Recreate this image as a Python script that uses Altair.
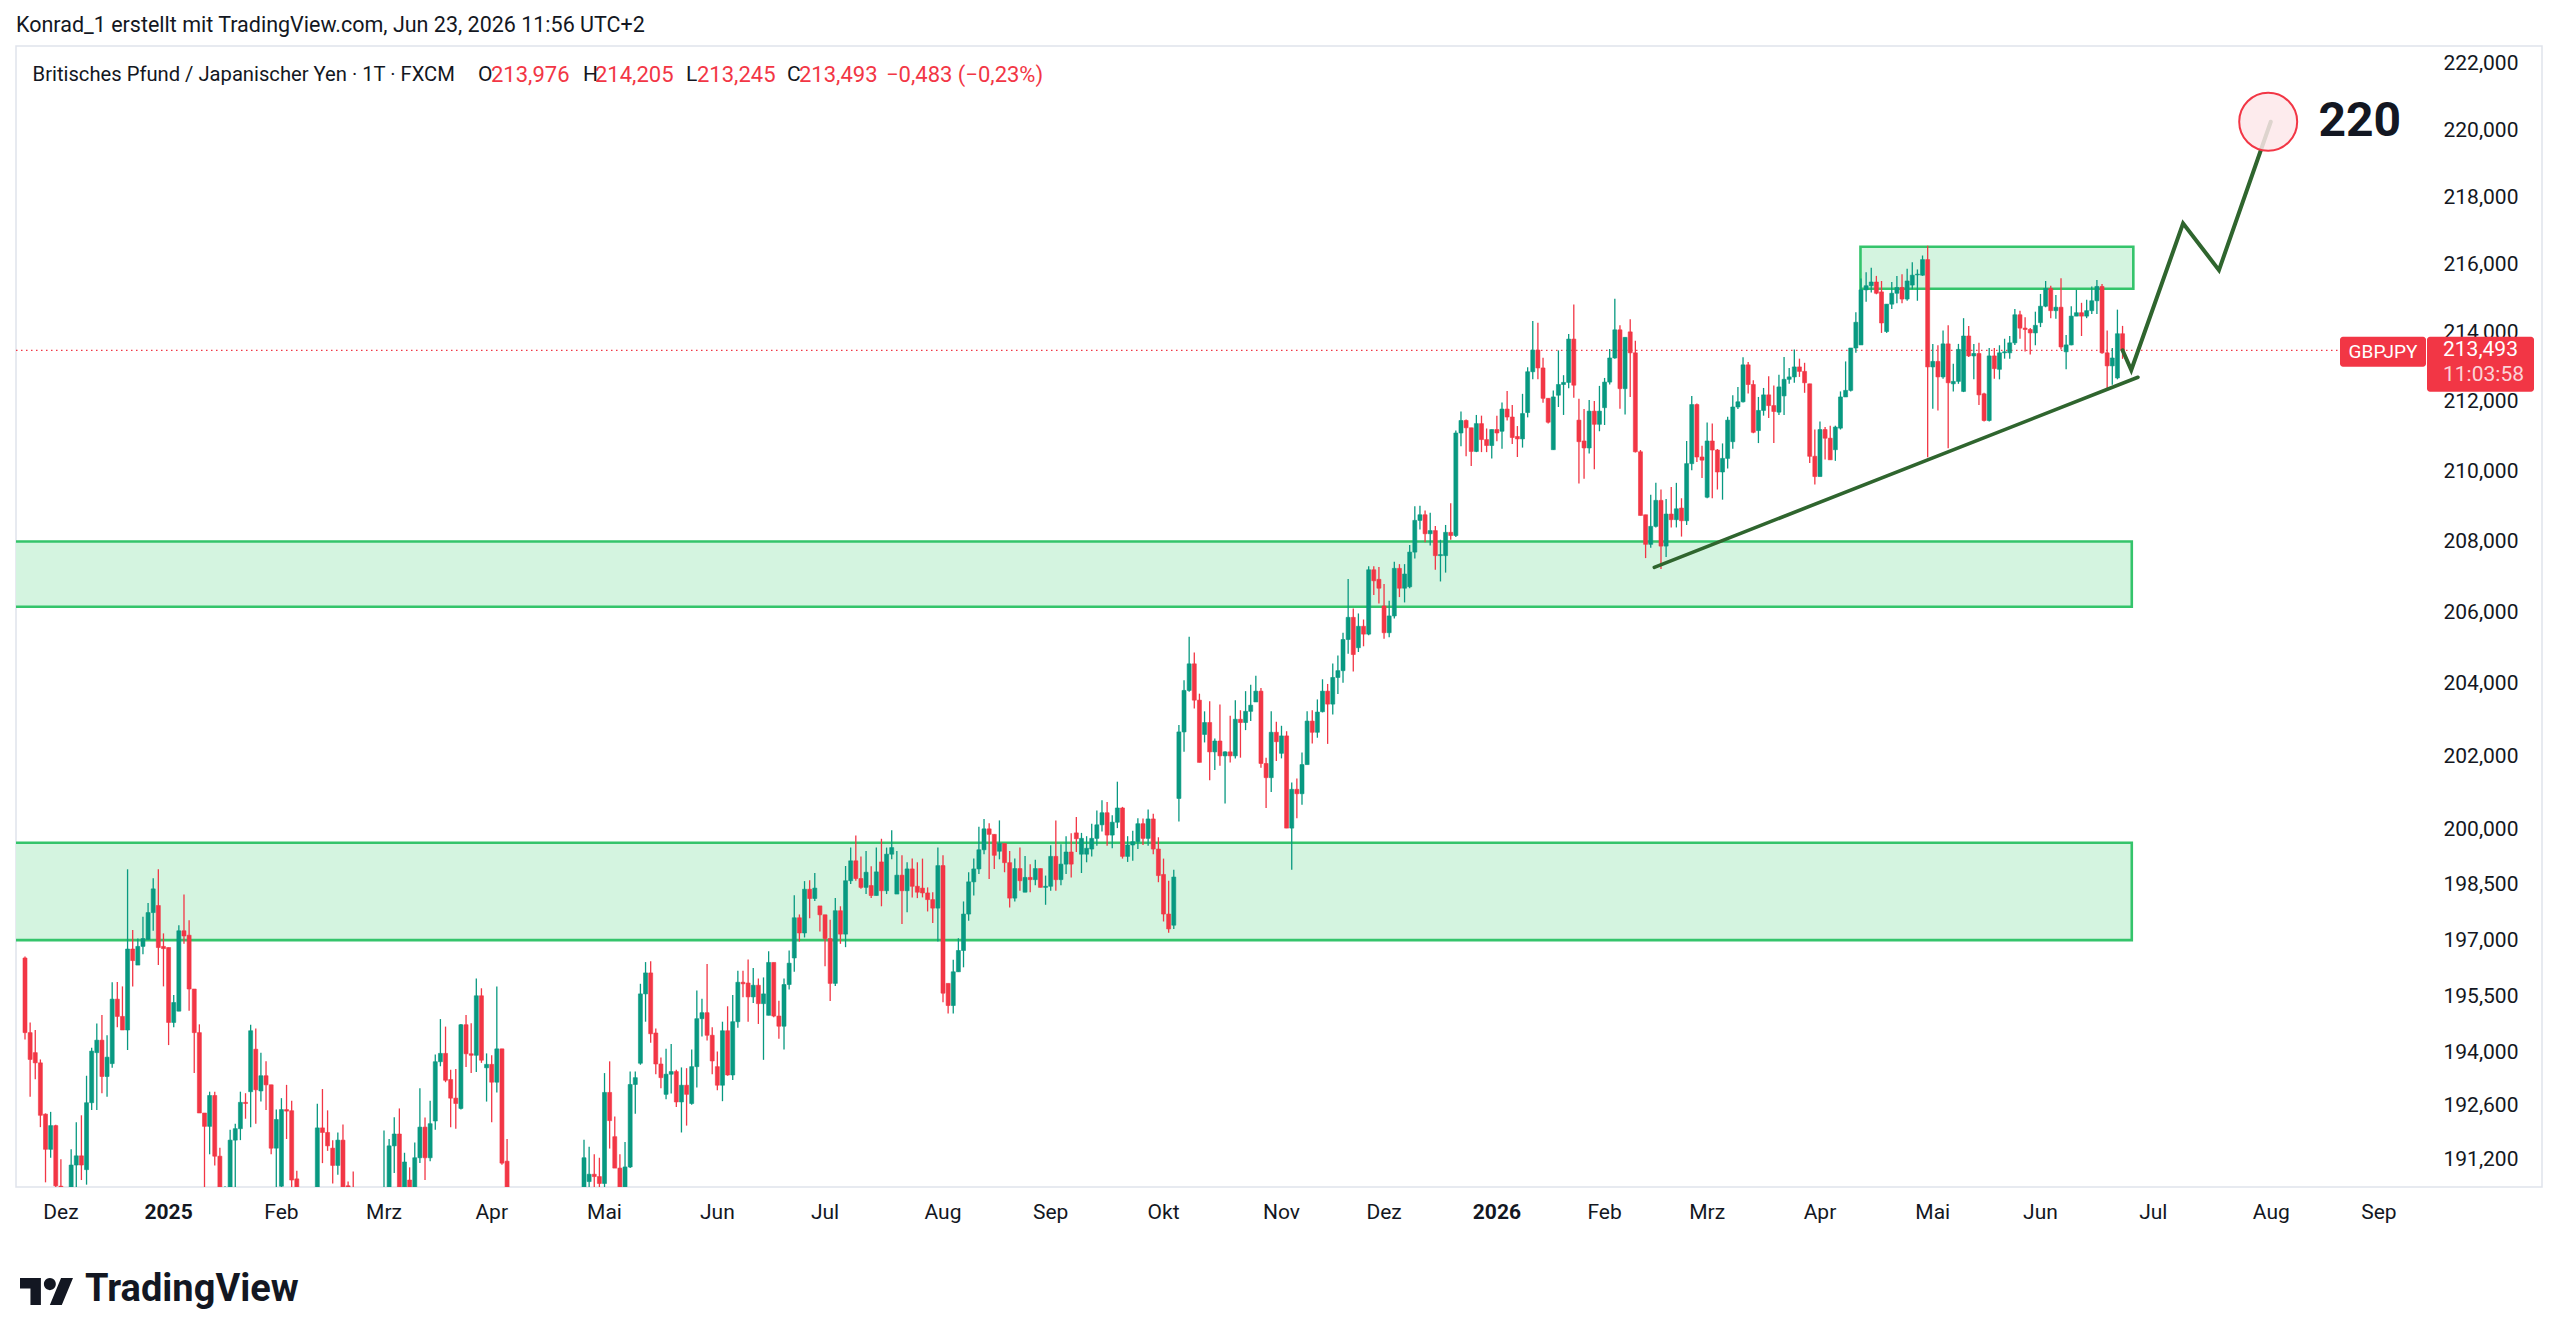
import altair as alt
import pandas as pd

# ---------------------------------------------------------------------------
# GBP/JPY daily candles (open, high, low, close), one list per month
# ---------------------------------------------------------------------------
nov_2024 = [
    (196.52, 196.56, 194.35, 194.53), (194.53, 194.80, 192.84, 193.82), (194.00, 194.60, 193.30, 193.73),
    (193.73, 193.82, 192.04, 192.35), (192.38, 192.40, 190.60, 191.46), (191.46, 192.44, 191.24, 192.08),
    (192.08, 192.10, 190.40, 190.51),
]
dec_2024 = [
    (190.50, 191.20, 189.50, 189.80), (189.80, 190.30, 189.00, 189.60), (189.90, 191.46, 189.70, 191.05),
    (191.05, 192.17, 190.30, 191.29), (191.29, 192.35, 190.66, 191.05), (190.93, 193.39, 190.54, 192.68),
    (192.68, 194.13, 192.49, 194.04), (194.00, 194.77, 192.49, 194.33), (194.33, 195.00, 192.93, 193.37),
    (193.37, 194.46, 192.84, 193.88), (193.71, 195.87, 193.60, 195.42), (195.42, 195.88, 194.67, 194.96),
    (194.96, 195.76, 194.60, 194.60), (194.60, 198.91, 194.07, 196.76), (196.76, 197.27, 195.76, 196.45),
    (196.33, 197.04, 196.33, 196.83), (196.83, 197.63, 196.62, 197.04), (197.02, 198.00, 197.00, 197.74),
    (197.74, 198.67, 197.25, 198.38), (197.93, 198.91, 196.33, 196.80), (196.83, 197.18, 195.76, 196.77),
]
jan_2025 = [
    (196.80, 196.80, 194.20, 194.80), (194.80, 195.53, 194.67, 195.33), (195.10, 197.40, 195.10, 197.25),
    (197.25, 198.23, 196.90, 197.11), (197.13, 197.53, 195.11, 195.69), (195.69, 195.69, 193.46, 194.53),
    (194.53, 194.75, 192.41, 192.41), (192.41, 192.41, 190.20, 192.06), (192.06, 192.97, 191.33, 192.87),
    (192.87, 192.97, 191.04, 191.28), (191.28, 191.50, 189.90, 190.20), (190.10, 190.50, 189.40, 190.35),
    (190.30, 191.97, 189.90, 191.70), (191.70, 192.13, 190.40, 192.00), (192.00, 192.97, 191.70, 192.69),
    (192.69, 192.93, 192.26, 192.66), (192.97, 194.74, 192.04, 194.58), (194.09, 194.64, 192.13, 193.02),
    (192.99, 194.00, 192.71, 193.39), (193.39, 193.77, 192.49, 193.15), (193.15, 193.15, 191.33, 191.49),
    (191.49, 192.50, 190.40, 192.24),
]
feb_2025 = [
    (190.50, 192.80, 189.30, 192.50), (192.50, 193.15, 191.73, 192.46), (192.47, 192.73, 190.30, 190.66),
    (190.69, 190.90, 189.90, 190.35), (190.30, 190.40, 188.90, 189.30), (189.30, 189.80, 188.20, 188.70),
    (188.70, 190.00, 188.30, 189.60), (189.60, 192.65, 189.40, 192.02), (192.02, 193.04, 191.10, 191.90),
    (191.90, 192.48, 191.42, 191.55), (191.49, 191.70, 190.57, 191.04), (191.04, 191.90, 190.80, 191.70),
    (191.70, 192.11, 190.30, 190.48), (190.51, 190.62, 189.80, 190.30), (190.30, 190.88, 189.40, 189.80),
    (189.80, 190.20, 188.60, 189.00), (189.00, 189.50, 187.90, 188.30), (188.30, 189.20, 187.80, 188.90),
    (188.90, 190.00, 188.50, 189.60), (189.60, 190.30, 188.90, 189.20),
]
mar_2025 = [
    (189.70, 191.95, 189.30, 190.20), (190.20, 191.73, 190.00, 191.55), (191.55, 192.30, 190.84, 191.86),
    (191.86, 192.53, 190.20, 190.48), (190.48, 191.37, 190.30, 191.13), (190.66, 190.99, 190.10, 190.40),
    (190.40, 191.64, 190.20, 191.24), (191.24, 193.06, 191.10, 192.04), (192.04, 192.29, 190.66, 191.24),
    (191.24, 192.73, 191.15, 192.13), (192.20, 193.95, 191.97, 193.76), (193.76, 194.89, 193.64, 193.98),
    (193.98, 194.69, 193.22, 193.27), (193.29, 193.55, 192.04, 192.80), (192.80, 193.57, 192.00, 192.66),
    (192.53, 194.76, 192.50, 194.74), (194.74, 195.00, 193.62, 193.97), (193.97, 194.78, 193.46, 193.93),
    (193.93, 195.97, 193.49, 195.51), (195.51, 195.71, 193.73, 193.80), (193.60, 193.98, 192.71, 193.69),
]
apr_2025 = [
    (193.69, 193.93, 192.17, 193.22), (193.22, 195.76, 192.95, 194.10), (194.10, 194.10, 191.06, 191.10),
    (191.15, 191.73, 189.80, 190.30), (190.30, 190.40, 184.50, 186.50), (186.50, 189.00, 185.80, 188.40),
    (188.40, 189.80, 186.20, 187.20), (187.20, 189.60, 186.00, 188.80), (188.80, 189.20, 186.00, 186.90),
    (186.90, 188.10, 185.60, 187.80), (187.80, 189.50, 187.40, 188.90), (188.90, 189.90, 187.90, 188.20),
    (188.20, 189.30, 187.50, 188.70), (188.70, 190.20, 188.20, 189.80), (189.80, 190.30, 188.00, 188.60),
    (188.60, 189.80, 187.90, 189.40), (189.40, 190.30, 188.80, 189.90), (189.90, 190.40, 189.00, 190.10),
    (190.40, 191.71, 190.10, 191.24), (190.62, 191.53, 190.30, 190.81), (190.81, 191.33, 190.30, 190.75),
    (190.75, 191.24, 190.30, 190.57),
]
may_2025 = [
    (190.57, 193.46, 190.40, 192.95), (192.95, 193.77, 191.48, 192.21), (191.79, 192.32, 190.97, 190.97),
    (190.97, 191.33, 190.20, 190.48), (190.48, 191.65, 190.30, 191.00), (191.00, 193.50, 190.97, 193.16),
    (193.16, 193.50, 192.39, 193.34), (193.72, 195.83, 193.68, 195.56), (195.56, 196.41, 194.82, 196.12),
    (196.12, 196.43, 194.26, 194.50), (194.52, 194.64, 193.43, 193.70), (193.70, 193.87, 193.06, 193.34),
    (192.90, 194.10, 192.77, 193.43), (193.43, 194.23, 192.92, 193.50), (193.50, 193.55, 192.57, 192.70),
    (192.70, 193.61, 191.90, 193.14), (193.14, 193.59, 192.08, 192.90), (192.66, 194.08, 192.63, 193.63),
    (193.63, 195.65, 193.08, 194.90), (194.90, 195.43, 194.43, 195.06), (195.06, 196.36, 194.32, 194.46),
    (194.46, 194.67, 193.43, 193.78),
]
jun_2025 = [
    (193.63, 194.03, 193.01, 193.14), (193.14, 194.82, 192.72, 194.58), (194.58, 195.23, 193.39, 193.41),
    (193.41, 195.53, 193.28, 194.82), (194.82, 196.18, 194.66, 195.87), (195.87, 196.18, 195.47, 195.83),
    (195.85, 196.48, 194.82, 195.48), (195.48, 196.25, 195.32, 195.79), (195.79, 195.97, 194.76, 195.30),
    (195.30, 196.00, 193.81, 195.56), (194.99, 196.70, 194.99, 196.40), (196.40, 196.40, 194.94, 194.97),
    (194.97, 195.38, 194.37, 194.70), (194.70, 195.97, 194.08, 195.81), (195.81, 196.72, 195.68, 196.38),
    (196.52, 198.21, 196.15, 197.60), (197.60, 197.69, 196.96, 197.19), (197.19, 198.59, 197.07, 198.37),
    (198.37, 198.61, 197.59, 198.12), (198.12, 198.81, 198.05, 198.40), (197.92, 197.92, 197.23, 197.68),
]
jul_2025 = [
    (197.68, 197.68, 196.30, 197.04), (197.04, 197.55, 195.37, 195.84), (195.84, 198.13, 195.77, 197.79),
    (197.79, 197.91, 196.90, 197.16), (197.16, 199.00, 196.81, 198.60), (198.60, 199.50, 198.51, 199.14),
    (199.14, 199.83, 198.60, 198.66), (198.66, 199.26, 198.38, 198.42), (198.42, 199.41, 198.24, 198.83),
    (198.47, 198.99, 198.13, 198.20), (198.20, 199.50, 198.20, 198.84), (199.11, 199.74, 197.91, 198.33),
    (198.33, 199.50, 198.24, 199.32), (199.32, 199.97, 199.18, 199.50), (198.24, 199.41, 198.24, 198.75),
    (198.75, 199.29, 197.43, 198.33), (198.33, 199.10, 197.75, 198.92), (198.92, 199.20, 198.15, 198.45),
    (198.45, 199.10, 198.13, 198.29), (198.40, 199.20, 198.15, 198.27), (198.27, 198.42, 197.77, 198.09),
    (198.09, 198.29, 197.46, 197.86), (197.86, 199.50, 196.96, 199.01),
]
aug_2025 = [
    (199.01, 199.29, 195.34, 195.58), (195.84, 195.84, 195.04, 195.25), (195.25, 196.47, 195.04, 196.15),
    (196.15, 197.05, 196.15, 196.72), (196.72, 198.04, 196.27, 197.70), (197.70, 198.83, 197.52, 198.57),
    (198.57, 199.20, 198.20, 198.92), (198.92, 200.07, 198.78, 199.44), (199.44, 200.28, 199.32, 200.01),
    (200.01, 200.16, 198.65, 199.86), (199.86, 199.86, 198.92, 199.29), (199.40, 200.24, 199.18, 199.61),
    (199.61, 199.61, 198.83, 199.09), (199.09, 199.41, 197.88, 198.13), (198.13, 199.20, 198.04, 198.93),
    (198.93, 199.50, 198.33, 198.60), (198.29, 199.27, 198.29, 198.69), (198.69, 199.05, 198.29, 198.63),
    (198.63, 199.17, 198.48, 198.93), (198.93, 198.93, 198.42, 198.42), (198.42, 198.74, 197.95, 198.45),
]
sep_2025 = [
    (198.45, 199.56, 198.33, 199.26), (199.26, 200.24, 198.33, 198.63), (198.63, 199.59, 198.48, 199.05),
    (199.05, 199.81, 198.78, 199.38), (199.38, 199.89, 198.69, 199.05), (199.90, 200.33, 199.38, 199.74),
    (199.32, 199.90, 198.81, 199.75), (199.32, 199.81, 199.10, 199.48), (199.46, 200.15, 199.26, 199.75),
    (199.75, 200.51, 199.55, 200.12), (200.12, 200.79, 199.94, 200.45), (200.45, 200.74, 199.55, 199.84),
    (199.84, 200.38, 199.48, 200.19), (200.19, 201.30, 200.03, 200.58), (200.58, 200.61, 199.20, 199.26),
    (199.26, 199.81, 199.11, 199.57), (199.57, 199.96, 199.14, 199.66), (199.66, 200.30, 199.46, 200.15),
    (200.15, 200.29, 199.57, 199.75), (199.75, 200.54, 199.55, 200.28), (200.28, 200.42, 199.32, 199.46),
    (199.46, 199.78, 198.56, 198.74),
]
oct_2025 = [
    (198.77, 199.20, 197.50, 197.70), (197.70, 198.60, 197.20, 197.30), (197.40, 198.90, 197.30, 198.70),
    (200.84, 202.86, 200.21, 202.67), (202.67, 204.10, 202.12, 203.82), (203.82, 205.32, 203.78, 204.56),
    (204.56, 204.88, 203.32, 203.55), (203.55, 203.73, 201.83, 201.83), (202.60, 203.24, 202.38, 202.93),
    (202.93, 203.52, 201.34, 202.12), (202.12, 202.49, 201.62, 202.42), (202.42, 203.43, 201.74, 202.01),
    (202.01, 202.14, 200.70, 202.12), (202.12, 203.12, 201.83, 202.01), (202.01, 203.55, 201.94, 203.02),
    (203.02, 203.27, 201.96, 202.93), (202.93, 203.80, 202.72, 203.24), (203.24, 203.98, 202.97, 203.41),
    (203.50, 204.23, 203.50, 203.80), (203.80, 203.89, 201.68, 201.80), (201.80, 201.96, 200.58, 201.41),
    (201.41, 203.24, 201.02, 202.66), (202.66, 202.95, 201.87, 202.40),
]
nov_2025 = [
    (202.08, 202.84, 201.94, 202.56), (202.56, 202.69, 200.03, 200.03), (200.03, 201.28, 198.90, 201.09),
    (201.09, 201.39, 200.30, 200.97), (200.97, 202.10, 200.67, 201.77), (201.77, 203.24, 201.77, 202.97),
    (202.97, 203.27, 202.35, 202.66), (202.66, 203.57, 202.51, 203.22), (203.23, 204.13, 203.21, 203.80),
    (203.80, 204.00, 202.34, 203.44), (203.44, 204.57, 203.15, 204.18), (204.18, 204.79, 203.72, 204.37),
    (204.37, 205.43, 204.03, 205.24), (205.24, 206.94, 204.84, 205.86), (205.86, 206.11, 204.35, 204.82),
    (205.01, 205.97, 204.89, 205.61), (205.61, 205.80, 205.05, 205.39), (205.39, 207.30, 205.36, 207.20),
    (207.20, 207.30, 206.49, 206.89), (206.93, 207.28, 206.25, 206.68),
]
dec_2025 = [
    (206.18, 206.80, 205.26, 205.43), (205.43, 206.33, 205.30, 205.90), (205.90, 207.43, 205.83, 207.24),
    (207.24, 207.36, 206.43, 206.68), (206.68, 207.36, 206.28, 207.08), (206.72, 207.90, 206.68, 207.70),
    (207.70, 209.00, 207.52, 208.60), (208.60, 209.02, 208.34, 208.76), (208.76, 208.88, 207.98, 208.22),
    (208.22, 208.82, 207.89, 208.31), (208.31, 208.44, 207.20, 207.60), (207.60, 208.05, 206.87, 207.63),
    (207.60, 208.47, 207.12, 208.26), (208.26, 209.09, 208.05, 208.17), (208.17, 211.17, 208.13, 211.10),
    (211.10, 211.72, 210.72, 211.46), (211.46, 211.49, 210.43, 211.25), (211.25, 211.25, 210.15, 210.57),
    (210.57, 211.62, 210.55, 211.37), (211.37, 211.60, 210.55, 210.91), (210.91, 211.23, 210.55, 210.74),
    (210.74, 211.20, 210.37, 211.20),
]
jan_2026 = [
    (211.20, 211.60, 210.86, 211.10), (211.15, 211.98, 210.65, 211.79), (211.79, 212.31, 211.46, 211.56),
    (211.56, 211.91, 210.78, 210.97), (211.00, 211.30, 210.41, 210.93), (210.93, 212.23, 210.68, 211.66),
    (211.69, 213.00, 211.55, 212.87), (212.87, 214.35, 212.65, 213.50), (213.50, 214.30, 212.65, 212.98),
    (212.98, 213.28, 211.97, 212.10), (212.10, 212.10, 211.37, 211.41), (210.62, 212.33, 210.62, 212.14),
    (212.19, 213.49, 211.85, 212.50), (212.50, 212.77, 211.62, 212.56), (212.56, 213.97, 212.39, 213.82),
    (213.82, 214.83, 212.12, 212.48), (211.47, 212.09, 209.65, 210.85), (210.87, 211.79, 209.79, 210.67),
    (210.67, 212.05, 210.51, 211.73), (211.73, 212.02, 210.06, 211.35), (211.35, 212.46, 211.15, 211.73),
]
feb_2026 = [
    (211.83, 212.69, 211.33, 212.57), (212.57, 213.53, 212.50, 213.27), (213.27, 215.00, 213.25, 214.09),
    (214.09, 214.22, 211.80, 212.38), (212.38, 213.87, 211.63, 213.87), (214.03, 214.40, 212.14, 213.42),
    (213.42, 213.77, 210.54, 210.56), (210.56, 210.61, 208.74, 208.74), (208.76, 208.76, 207.53, 207.92),
    (207.92, 209.33, 207.82, 208.43), (208.43, 209.67, 208.40, 209.17), (209.17, 209.48, 207.22, 207.87),
    (207.87, 209.21, 207.56, 208.78), (208.78, 209.55, 208.40, 208.62), (208.62, 209.67, 208.40, 208.93),
    (208.95, 209.23, 208.14, 208.59), (208.59, 210.87, 208.47, 210.22), (210.22, 212.17, 210.03, 211.92),
    (211.92, 211.95, 210.27, 210.41), (210.41, 210.73, 209.81, 210.32),
]
mar_2026 = [
    (209.26, 211.40, 209.23, 210.87), (210.87, 211.37, 209.23, 210.61), (210.61, 210.64, 209.48, 209.98),
    (209.98, 210.80, 209.19, 210.37), (210.37, 211.57, 210.08, 211.47), (210.85, 212.19, 210.65, 211.85),
    (211.85, 212.43, 211.79, 212.00), (212.00, 213.29, 211.98, 213.07), (213.07, 213.15, 212.24, 212.50),
    (212.50, 212.62, 211.09, 211.12), (211.17, 212.14, 210.81, 211.75), (211.75, 212.40, 211.60, 212.20),
    (212.20, 212.74, 211.53, 211.89), (211.89, 212.47, 210.81, 211.72), (211.70, 212.78, 211.62, 212.43),
    (212.17, 213.30, 211.62, 212.65), (212.65, 212.98, 212.52, 212.72), (212.72, 213.52, 212.55, 213.01),
    (213.01, 213.25, 212.72, 212.88), (212.88, 213.13, 212.26, 212.55), (212.52, 212.52, 210.24, 210.43),
    (210.43, 211.20, 209.62, 209.85),
]
apr_2026 = [
    (209.85, 211.43, 209.85, 211.20), (211.20, 211.27, 210.34, 210.95), (210.95, 211.31, 210.33, 210.33),
    (210.62, 211.31, 210.30, 211.27), (211.24, 212.30, 211.20, 212.14), (212.14, 213.17, 212.14, 212.33),
    (212.33, 213.56, 212.30, 213.56), (213.56, 214.60, 213.42, 214.31), (213.65, 215.59, 213.65, 215.26),
    (215.26, 215.78, 214.91, 215.38), (215.38, 215.91, 215.18, 215.49), (215.49, 215.67, 215.13, 215.16),
    (215.20, 215.52, 214.00, 214.29), (214.04, 214.84, 214.00, 214.84), (214.84, 215.49, 214.70, 215.16),
    (215.16, 215.67, 214.87, 215.33), (215.33, 215.72, 214.87, 214.99), (214.99, 215.88, 214.94, 215.52),
    (215.40, 216.07, 215.28, 215.69), (215.70, 215.86, 214.94, 215.72), (215.69, 216.27, 215.67, 216.15),
    (216.15, 216.56, 210.40, 213.01),
]
may_2026 = [
    (213.01, 213.68, 211.80, 213.17), (213.17, 213.64, 211.75, 212.72), (212.72, 214.07, 212.67, 213.68),
    (213.68, 214.22, 210.66, 212.55), (212.52, 213.10, 212.30, 212.59), (212.59, 213.68, 212.52, 213.52),
    (212.30, 214.43, 212.28, 213.91), (213.91, 214.20, 213.30, 213.33), (213.33, 213.68, 212.65, 213.40),
    (213.40, 213.71, 211.91, 212.20), (212.23, 212.26, 211.43, 211.46), (211.46, 213.56, 211.43, 213.33),
    (213.33, 213.56, 212.67, 212.96), (212.94, 213.64, 212.65, 213.42), (213.42, 213.83, 213.25, 213.45),
    (213.42, 213.91, 213.25, 213.71), (213.71, 214.70, 213.65, 214.53), (214.53, 214.65, 213.83, 214.14),
    (214.14, 214.46, 213.46, 214.10), (214.10, 214.14, 213.37, 214.00), (214.00, 214.62, 213.64, 214.22),
]
jun_2026 = [
    (214.30, 215.14, 214.17, 214.78), (214.78, 215.52, 214.75, 215.30), (215.30, 215.38, 214.43, 214.65),
    (214.65, 215.11, 214.41, 214.75), (214.75, 215.60, 213.52, 213.59), (213.45, 213.94, 212.94, 213.65),
    (213.65, 214.78, 213.64, 214.49), (214.49, 215.26, 214.49, 214.59), (214.59, 214.88, 213.91, 214.49),
    (214.49, 214.97, 214.43, 214.65), (214.65, 215.36, 214.55, 214.94), (214.94, 215.55, 214.55, 215.36),
    (215.36, 215.43, 213.39, 213.42), (213.42, 214.07, 212.40, 213.04), (213.04, 213.56, 212.49, 213.27),
    (212.69, 214.68, 212.65, 213.976), (213.976, 214.205, 213.245, 213.493),
]

# Drawings: support / resistance zones (bar-index span, price span)
ZONE_START = [-5.0, -5.0, 357.9]
ZONE_END = [410.8, 410.8, 411.1]
ZONE_LOW = [197.00, 206.16, 215.29]
ZONE_HIGH = [199.63, 208.00, 216.53]

# Rising trend line and projected path towards the target
TREND_X = [317.7, 412.0]
TREND_Y = [207.27, 212.71]
PATH_X = [409.0, 410.7, 420.8, 427.8, 437.9]
PATH_Y = [213.493, 212.92, 217.22, 215.84, 220.25]
TARGET_X = 437.4
TARGET_Y = 220.25
TARGET_LABEL = "220"

PRICE_TICKS = [191.2, 192.6, 194.0, 195.5, 197.0, 198.5, 200.0, 202.0, 204.0, 206.0,
               208.0, 210.0, 212.0, 214.0, 216.0, 218.0, 220.0, 222.0]
MONTHS_DE = ["Jan", "Feb", "Mrz", "Apr", "Mai", "Jun", "Jul", "Aug", "Sep", "Okt", "Nov", "Dez"]

# ---------------------------------------------------------------------------
months = [nov_2024, dec_2024, jan_2025, feb_2025, mar_2025, apr_2025, may_2025, jun_2025,
          jul_2025, aug_2025, sep_2025, oct_2025, nov_2025, dec_2025, jan_2026, feb_2026,
          mar_2026, apr_2026, may_2026, jun_2026]
candles = [c for m in months for c in m]

# trading calendar (weekdays without Christmas / New Year), one slot per bar
calendar = [d for d in pd.bdate_range("2024-11-21", "2026-09-30")
            if not ((d.month == 12 and d.day == 25) or (d.month == 1 and d.day == 1))]

df = pd.DataFrame(candles, columns=["open", "high", "low", "close"])
df["i"] = range(len(df))
df["date"] = [d.strftime("%Y-%m-%d") for d in calendar[:len(df)]]
df["dir"] = ["up" if c >= o else "down" for o, c in zip(df["open"], df["close"])]

X_MIN, X_MAX = -0.78, 467.0
tick_rows = []
for k in range(1, len(calendar)):
    d = calendar[k]
    if d.month != calendar[k - 1].month and k < X_MAX:
        tick_rows.append({"i": k, "label": str(d.year) if d.month == 1 else MONTHS_DE[d.month - 1],
                          "year": d.month == 1})
ticks_df = pd.DataFrame(tick_rows)

W, H = 2409, 1138
FONT = "Roboto"
INK = "#131722"
GREEN = "#089981"
RED = "#f23645"
ZONE_FILL = "#d4f4e0"
ZONE_LINE = "#34c46b"
DRAW = "#2f652e"

xs = alt.Scale(domain=[X_MIN, X_MAX], nice=False, zero=False)
ys = alt.Scale(type="log", domain=[190.479, 222.445], nice=False, zero=False)
dir_scale = alt.Scale(domain=["up", "down"], range=[GREEN, RED])

y_axis = alt.Axis(orient="right", values=PRICE_TICKS, title=None,
                  labelExpr="replace(format(datum.value, '.3f'), '.', ',')",
                  ticks=False, domain=False, grid=False, labelPadding=18,
                  labelFont=FONT, labelFontSize=21, labelColor=INK,
                  labelOverlap=False, labelFlush=False, labelAlign="left")


def X(field):
    return alt.X(field, scale=xs, axis=None, title=None)


def Y(field):
    # every layer carries the same price axis so that the shared axis merges cleanly
    return alt.Y(field, scale=ys, axis=y_axis, title=None)


ONE = pd.DataFrame({"k": [0]})


def label(text, x, y, size=20, color=INK, weight="normal", align="left"):
    return alt.Chart(ONE).mark_text(
        text=text, font=FONT, fontSize=size, color=color, fontWeight=weight,
        align=align, baseline="middle"
    ).encode(x=alt.value(x), y=alt.value(y))


def de(v):
    return f"{v:.3f}".replace(".", ",")


# frame around the chart pane
frame = alt.Chart(ONE).mark_rect(fillOpacity=0, stroke="#e0e3eb", strokeWidth=1.5).encode(
    x=alt.value(0), x2=alt.value(2526), y=alt.value(-3), y2=alt.value(H))

zones = alt.Chart(pd.DataFrame({"x0": ZONE_START, "x1": ZONE_END, "lo": ZONE_LOW, "hi": ZONE_HIGH})).mark_rect(
    fill=ZONE_FILL, stroke=ZONE_LINE, strokeWidth=2.6, clip=True
).encode(x=X("x0:Q"), x2="x1:Q", y=Y("lo:Q"), y2="hi:Q")

last = df.iloc[-1]
prev_close = df.iloc[-2]["close"]
change = last["close"] - prev_close
pct = change / prev_close * 100
lc = float(last["close"])
LAST = pd.DataFrame({"p": [lc]})

price_line = alt.Chart(LAST).mark_rule(color=RED, strokeWidth=1.2, strokeDash=[1.5, 3.5]).encode(
    x=alt.value(0), x2=alt.value(W), y=Y("p:Q"))

wicks = alt.Chart(df).mark_rule(strokeWidth=1.3, clip=True).encode(
    x=X("i:Q"), y=Y("low:Q"), y2="high:Q",
    color=alt.Color("dir:N", scale=dir_scale, legend=None))

bodies = alt.Chart(df).mark_bar(width=4.0, strokeWidth=0.6, clip=True).encode(
    x=X("i:Q"), y=Y("open:Q"), y2="close:Q",
    color=alt.Color("dir:N", scale=dir_scale, legend=None),
    stroke=alt.Stroke("dir:N", scale=dir_scale, legend=None))

trend = alt.Chart(pd.DataFrame({"x": TREND_X, "y": TREND_Y})).mark_line(
    color=DRAW, strokeWidth=3.6, strokeCap="round").encode(x=X("x:Q"), y=Y("y:Q"))

path = alt.Chart(pd.DataFrame({"x": PATH_X, "y": PATH_Y, "o": range(len(PATH_X))})).mark_line(
    color=DRAW, strokeWidth=4, strokeJoin="miter", strokeCap="round").encode(
    x=X("x:Q"), y=Y("y:Q"), order="o:Q")

target = alt.Chart(pd.DataFrame({"x": [TARGET_X], "y": [TARGET_Y]})).mark_point(
    shape="circle", size=3360, filled=True, fill="#fde8ea", fillOpacity=0.85,
    stroke=RED, strokeWidth=2, opacity=1).encode(x=X("x:Q"), y=Y("y:Q"))

target_text = alt.Chart(pd.DataFrame({"x": [447.2], "y": [TARGET_Y], "t": [TARGET_LABEL]})).mark_text(
    font=FONT, fontSize=48, fontWeight="bold", color=INK, align="left", baseline="middle").encode(
    x=X("x:Q"), y=Y("y:Q"), text="t:N")

# last-price tags on the right
tag_sym = alt.Chart(LAST).mark_rect(color=RED, cornerRadius=3, yOffset=-13.6, y2Offset=16.4).encode(
    x=alt.value(2324), x2=alt.value(2410), y=Y("p:Q"), y2="p:Q")
tag_px = alt.Chart(LAST).mark_rect(color=RED, cornerRadius=3, yOffset=-13.6, y2Offset=41.4).encode(
    x=alt.value(2411), x2=alt.value(2518), y=Y("p:Q"), y2="p:Q")
tag_sym_t = alt.Chart(LAST).mark_text(text="GBPJPY", font=FONT, fontSize=19, color="white",
                                      align="center", baseline="middle", dy=1.5).encode(
    x=alt.value(2367), y=Y("p:Q"))
tag_px_t = alt.Chart(LAST).mark_text(text=de(lc), font=FONT, fontSize=21, color="white",
                                     align="left", baseline="middle").encode(
    x=alt.value(2427), y=Y("p:Q"))
tag_cd_t = alt.Chart(LAST).mark_text(text="11:03:58", font=FONT, fontSize=21, color="#fbd3d7",
                                     align="left", baseline="middle", dy=25).encode(
    x=alt.value(2427), y=Y("p:Q"))

# month labels under the plot
month_norm = alt.Chart(ticks_df[~ticks_df["year"]]).mark_text(
    font=FONT, fontSize=21, color=INK, baseline="middle").encode(
    x=X("i:Q"), y=alt.value(H + 26), text="label:N")
month_year = alt.Chart(ticks_df[ticks_df["year"]]).mark_text(
    font=FONT, fontSize=21, fontWeight="bold", color=INK, baseline="middle").encode(
    x=X("i:Q"), y=alt.value(H + 26), text="label:N")

# header lines
headers = [
    label("Konrad_1 erstellt mit TradingView.com, Jun 23, 2026 11:56 UTC+2", 0, -23, size=21.5),
    label("Britisches Pfund / Japanischer Yen · 1T · FXCM", 16.6, 26, size=20.2),
    label("O", 462, 26, size=21), label(de(last["open"]), 475, 26, size=22, color=RED),
    label("H", 567, 26, size=21), label(de(last["high"]), 579, 26, size=22, color=RED),
    label("L", 670, 26, size=21), label(de(last["low"]), 681, 26, size=22, color=RED),
    label("C", 771, 26, size=21), label(de(last["close"]), 783, 26, size=22, color=RED),
    label(f"{change:+.3f} ({pct:+.2f}%)".replace(".", ",").replace("-", "\u2212"), 870, 26,
          size=22, color=RED),
]

# TradingView wordmark
LOGO_PATH = ("M-0.2113,0.507 L-0.6056,0.507 L-0.6056,-0.1127 L-1,-0.1127 L-1,-0.507 L-0.2113,-0.507 Z "
             "M0.5775,0.507 L0.1268,0.507 L0.5493,-0.507 L1,-0.507 Z "
             "M-0.0986,-0.2817 A0.2254,0.2254 0 1,0 0.3521,-0.2817 A0.2254,0.2254 0 1,0 -0.0986,-0.2817 Z")
logo = alt.Chart(ONE).mark_point(shape=LOGO_PATH, size=2809, filled=True, fill=INK,
                                 strokeWidth=0, opacity=1).encode(
    x=alt.value(30.5), y=alt.value(1242.5))
wordmark = label("TradingView", 69, 1241, size=38, weight="bold")

chart = alt.layer(
    frame, zones, price_line, wicks, bodies, trend, path, target, target_text,
    tag_sym, tag_px, tag_sym_t, tag_px_t, tag_cd_t, month_norm, month_year,
    *headers, logo, wordmark
).properties(
    width=W, height=H,
    padding={"left": 16, "top": 49, "right": 135, "bottom": 157},
    autosize=alt.AutoSizeParams(type="none"),
    background="white",
).configure_view(stroke=None)

chart.save("out.html", embed_options={"renderer": "svg", "actions": False})
